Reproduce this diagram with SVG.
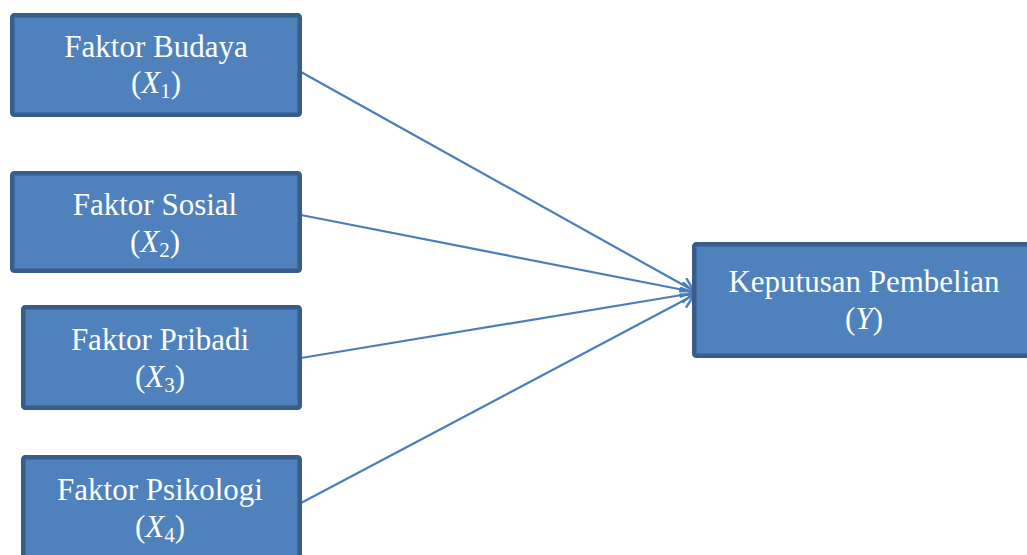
<svg xmlns="http://www.w3.org/2000/svg" width="1027" height="555" viewBox="0 0 1027 555">
<style>
.box{fill:#4f81bd;stroke:#385d8a;stroke-width:4.5}
.t{font-family:'Liberation Serif','Times New Roman',Times,Tinos,'Noto Serif','DejaVu Serif','FreeSerif',serif;font-size:31px;fill:#ffffff;text-anchor:middle}
.i{font-style:italic}
.sub{font-size:21px}
.conn{stroke:#4a7ebb;stroke-width:2.2;fill:none;marker-end:url(#arr)}
</style>
<defs>
<marker id="arr" markerUnits="userSpaceOnUse" markerWidth="20" markerHeight="20" refX="14" refY="8" orient="auto">
<path d="M1,0.5 L14,8 L1,15.5" fill="none" stroke="#4a7ebb" stroke-width="2.4"/>
</marker>
</defs>
<rect width="1027" height="555" fill="#ffffff"/>
<g id="connectors">
<line class="conn" x1="301" y1="72" x2="694" y2="291"/>
<line class="conn" x1="301" y1="215" x2="694" y2="292"/>
<line class="conn" x1="301" y1="358" x2="694" y2="293"/>
<line class="conn" x1="301" y1="503" x2="694" y2="295"/>
</g>
<g id="x1">
<rect class="box" x="12.25" y="15.25" width="287.5" height="99.5" rx="2"/>
<text class="t" x="156" y="57">Faktor Budaya</text>
<text class="t" x="156" y="93">(<tspan class="i">X</tspan><tspan class="sub" dy="5">1</tspan><tspan dy="-5">)</tspan></text>
</g>
<g id="x2">
<rect class="box" x="12.25" y="173.25" width="287.5" height="97.5" rx="2"/>
<text class="t" x="155" y="215">Faktor Sosial</text>
<text class="t" x="155" y="252">(<tspan class="i">X</tspan><tspan class="sub" dy="5">2</tspan><tspan dy="-5">)</tspan></text>
</g>
<g id="x3">
<rect class="box" x="23.25" y="307.25" width="276.5" height="100.5" rx="2"/>
<text class="t" x="160" y="350">Faktor Pribadi</text>
<text class="t" x="160" y="387">(<tspan class="i">X</tspan><tspan class="sub" dy="5">3</tspan><tspan dy="-5">)</tspan></text>
</g>
<g id="x4">
<rect class="box" x="23.25" y="457.25" width="276.5" height="105" rx="2"/>
<text class="t" x="160" y="500">Faktor Psikologi</text>
<text class="t" x="160" y="537">(<tspan class="i">X</tspan><tspan class="sub" dy="5">4</tspan><tspan dy="-5">)</tspan></text>
</g>
<g id="y">
<rect class="box" x="694.25" y="244.25" width="340" height="111.5" rx="2"/>
<text class="t" x="864" y="292">Keputusan Pembelian</text>
<text class="t" x="864" y="329">(<tspan class="i">Y</tspan>)</text>
</g>
</svg>
